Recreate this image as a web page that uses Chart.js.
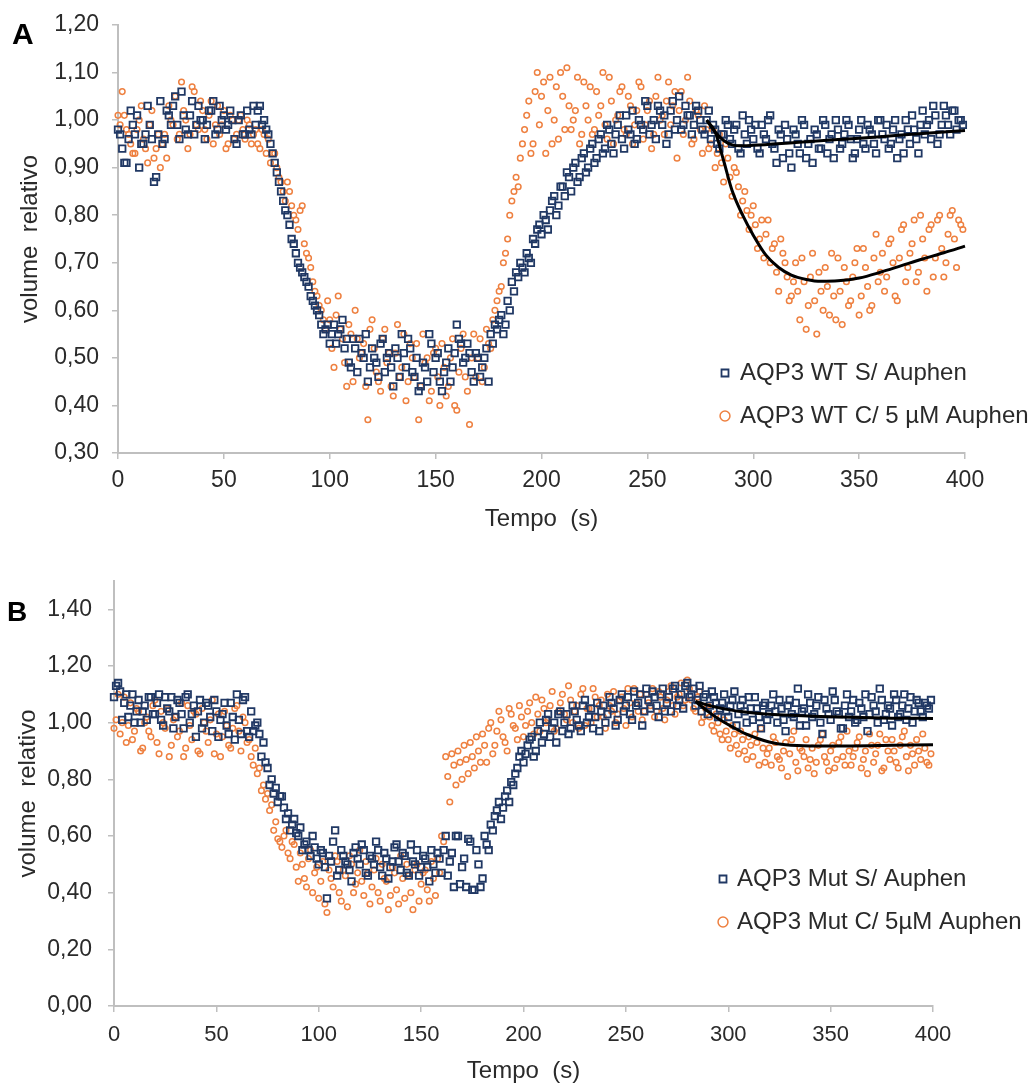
<!DOCTYPE html>
<html>
<head>
<meta charset="utf-8">
<script src="https://cdn.jsdelivr.net/npm/chart.js@4.4.1/dist/chart.umd.min.js"></script>
<style>
  html, body { margin: 0; padding: 0; background: #fff; }
  body { width: 1031px; height: 1086px; position: relative; overflow: hidden; font-family: "Liberation Sans", Arial, sans-serif; }
  canvas { position: absolute; left: 0; }
  .tag { position: absolute; font-weight: bold; color: #000; line-height: 1; z-index: 2; }
</style>
</head>
<body>
<canvas id="chartA" width="1031" height="545" style="top:0"></canvas>
<canvas id="chartB" width="1031" height="526" style="top:560px"></canvas>
<div class="tag" style="left:12px; top:19px; font-size:30px;">A</div>
<div class="tag" style="left:7px; top:598px; font-size:28px;">B</div>
<script>
// tempo (s): even and odd readings
const tempo = [
  0, 2, 4, 6, 8, 10, 12, 14, 16, 18,
  20, 22, 24, 26, 28, 30, 32, 34, 36, 38,
  40, 42, 44, 46, 48, 50, 52, 54, 56, 58,
  60, 62, 64, 66, 68, 70, 72, 74, 76, 78,
  80, 82, 84, 86, 88, 90, 92, 94, 96, 98,
  100, 102, 104, 106, 108, 110, 112, 114, 116, 118,
  120, 122, 124, 126, 128, 130, 132, 134, 136, 138,
  140, 142, 144, 146, 148, 150, 152, 154, 156, 158,
  160, 162, 164, 166, 168, 170, 172, 174, 176, 178,
  180, 182, 184, 186, 188, 190, 192, 194, 196, 198,
  200, 202, 204, 206, 208, 210, 212, 214, 216, 218,
  220, 222, 224, 226, 228, 230, 232, 234, 236, 238,
  240, 242, 244, 246, 248, 250, 252, 254, 256, 258,
  260, 262, 264, 266, 268, 270, 272, 274, 276, 278,
  280, 282, 284, 286, 288, 290, 292, 294, 296, 298,
  300, 302, 304, 306, 308, 310, 312, 314, 316, 318,
  320, 322, 324, 326, 328, 330, 332, 334, 336, 338,
  340, 342, 344, 346, 348, 350, 352, 354, 356, 358,
  360, 362, 364, 366, 368, 370, 372, 374, 376, 378,
  380, 382, 384, 386, 388, 390, 392, 394, 396, 398
];
const tempoImpar = [
  1, 3, 5, 7, 9, 11, 13, 15, 17, 19,
  21, 23, 25, 27, 29, 31, 33, 35, 37, 39,
  41, 43, 45, 47, 49, 51, 53, 55, 57, 59,
  61, 63, 65, 67, 69, 71, 73, 75, 77, 79,
  81, 83, 85, 87, 89, 91, 93, 95, 97, 99,
  101, 103, 105, 107, 109, 111, 113, 115, 117, 119,
  121, 123, 125, 127, 129, 131, 133, 135, 137, 139,
  141, 143, 145, 147, 149, 151, 153, 155, 157, 159,
  161, 163, 165, 167, 169, 171, 173, 175, 177, 179,
  181, 183, 185, 187, 189, 191, 193, 195, 197, 199,
  201, 203, 205, 207, 209, 211, 213, 215, 217, 219,
  221, 223, 225, 227, 229, 231, 233, 235, 237, 239,
  241, 243, 245, 247, 249, 251, 253, 255, 257, 259,
  261, 263, 265, 267, 269, 271, 273, 275, 277, 279,
  281, 283, 285, 287, 289, 291, 293, 295, 297, 299,
  301, 303, 305, 307, 309, 311, 313, 315, 317, 319,
  321, 323, 325, 327, 329, 331, 333, 335, 337, 339,
  341, 343, 345, 347, 349, 351, 353, 355, 357, 359,
  361, 363, 365, 367, 369, 371, 373, 375, 377, 379,
  381, 383, 385, 387, 389, 391, 393, 395, 397, 399
];

// painel A - AQP3 WT sem Auphen
const wtSemAuphen = [
  0.98, 0.94, 0.91, 1.02, 0.97, 0.90, 0.95, 1.03, 0.96, 0.88,
  1.04, 0.96, 1.01, 1.03, 0.99, 1.06, 0.98, 1.01, 0.97, 1.03,
  1.00, 0.99, 1.02, 0.97, 1.03, 1.01, 0.99, 1.00, 0.95, 1.01,
  0.97, 0.98, 1.03, 1.02, 0.99, 0.98, 0.95, 0.91, 0.87, 0.83,
  0.80, 0.75, 0.72, 0.69, 0.67, 0.65, 0.62, 0.60, 0.57, 0.56,
  0.53, 0.57, 0.55, 0.58, 0.54, 0.48, 0.52, 0.54, 0.50, 0.45,
  0.52, 0.49, 0.53, 0.47, 0.51, 0.44, 0.50, 0.55, 0.48, 0.52,
  0.46, 0.43, 0.49, 0.45, 0.53, 0.50, 0.45, 0.47, 0.52, 0.48,
  0.57, 0.53, 0.50, 0.51, 0.45, 0.50, 0.48, 0.52, 0.55, 0.57,
  0.58, 0.55, 0.62, 0.66, 0.68, 0.70, 0.68, 0.71, 0.75, 0.77,
  0.76, 0.79, 0.81, 0.84, 0.82, 0.86, 0.89, 0.85, 0.91, 0.88,
  0.93, 0.90, 0.95, 0.92, 0.97, 0.94, 0.98, 0.93, 0.99, 0.96,
  1.01, 0.97, 0.95, 1.00, 0.98, 1.03, 0.99, 0.96, 1.02, 1.01,
  0.97, 1.04, 1.00, 0.98, 1.03, 1.01, 0.99, 1.02, 0.98, 1.00,
  0.96, 0.98, 0.94, 0.97, 0.99, 0.95, 0.99, 0.93, 0.97, 1.00,
  0.96, 0.94, 0.99, 0.96, 1.01, 0.94, 0.98, 0.92, 0.96, 0.90,
  0.97, 0.93, 0.99, 0.95, 0.91, 0.97, 0.94, 0.99, 0.96, 0.92,
  0.98, 0.95, 1.00, 0.96, 0.93, 0.98, 0.95, 0.99, 0.97, 0.93,
  1.00, 0.96, 0.94, 0.98, 0.92, 0.97, 1.00, 0.95, 0.98, 0.93,
  1.02, 0.99, 0.96, 1.01, 0.97, 1.03, 0.99, 1.02, 0.98, 1.00
];
const wtSemAuphenImpar = [
  0.97, 0.91, 0.96, 0.99, 1.01, 0.95, 0.97, 0.99, 0.87, 0.97,
  0.95, 1.02, 0.99, 1.05, 0.96, 1.01, 0.97, 1.04, 0.99, 1.00,
  0.96, 1.02, 1.04, 0.98, 1.00, 0.98, 1.02, 0.96, 1.00, 0.97,
  1.02, 0.97, 0.99, 1.03, 1.00, 0.97, 0.93, 0.89, 0.85, 0.81,
  0.78, 0.74, 0.70, 0.68, 0.66, 0.63, 0.61, 0.59, 0.55, 0.57,
  0.55, 0.53, 0.56, 0.52, 0.49, 0.54, 0.47, 0.51, 0.55, 0.48,
  0.50, 0.46, 0.54, 0.50, 0.48, 0.52, 0.46, 0.51, 0.54, 0.47,
  0.50, 0.44, 0.48, 0.55, 0.47, 0.51, 0.43, 0.49, 0.45, 0.51,
  0.54, 0.49, 0.53, 0.47, 0.51, 0.46, 0.50, 0.45, 0.53, 0.56,
  0.59, 0.57, 0.60, 0.64, 0.67, 0.69, 0.72, 0.70, 0.74, 0.78,
  0.80, 0.77, 0.83, 0.80, 0.86, 0.84, 0.88, 0.90, 0.87, 0.92,
  0.89, 0.94, 0.91, 0.96, 0.93, 0.99, 0.95, 0.97, 1.01, 0.94,
  0.98, 1.02, 0.96, 0.99, 1.04, 0.97, 1.00, 1.03, 0.99, 0.95,
  1.02, 0.98, 1.05, 0.99, 1.01, 0.97, 1.03, 1.00, 0.97, 1.02,
  0.99, 0.95, 0.97, 1.00, 0.96, 0.98, 0.94, 1.01, 0.95, 0.98,
  0.99, 0.93, 0.97, 1.00, 0.95, 0.91, 0.97, 0.99, 0.93, 0.98,
  0.95, 1.00, 0.92, 0.96, 0.98, 0.94, 1.00, 0.93, 0.97, 1.00,
  0.94, 0.97, 0.99, 0.92, 0.96, 1.00, 0.94, 0.98, 0.95, 1.00,
  0.97, 0.99, 0.95, 1.00, 0.96, 0.93, 0.98, 1.01, 0.96, 0.99,
  0.97, 1.00, 1.03, 0.95, 0.99, 1.01, 0.97, 1.02, 1.00, 0.99
];
// painel A - AQP3 WT com 5 uM Auphen
const wtComAuphen = [
  1.01, 1.06, 0.98, 0.95, 0.93, 1.00, 0.96, 0.91, 1.02, 0.94,
  0.90, 0.97, 1.03, 0.99, 0.96, 1.08, 1.00, 0.97, 1.06, 0.98,
  1.02, 0.96, 1.04, 0.99, 0.97, 1.02, 0.95, 1.00, 0.97, 1.01,
  0.96, 0.99, 0.97, 0.95, 0.98, 0.93, 0.91, 0.93, 0.88, 0.85,
  0.87, 0.82, 0.79, 0.81, 0.74, 0.71, 0.66, 0.63, 0.60, 0.56,
  0.58, 0.48, 0.63, 0.54, 0.44, 0.55, 0.60, 0.50, 0.53, 0.37,
  0.58, 0.47, 0.43, 0.56, 0.51, 0.42, 0.57, 0.48, 0.41, 0.53,
  0.46, 0.37, 0.55, 0.50, 0.43, 0.52, 0.40, 0.48, 0.44, 0.54,
  0.39, 0.52, 0.46, 0.36, 0.55, 0.50, 0.45, 0.56, 0.52, 0.60,
  0.64, 0.70, 0.75, 0.83, 0.88, 0.92, 0.98, 1.04, 0.95, 1.10,
  1.05, 0.93, 1.09, 1.00, 0.96, 1.05, 1.11, 0.98, 1.02, 0.95,
  1.08, 1.00, 0.97, 1.06, 1.03, 0.99, 1.09, 0.95, 1.01, 1.07,
  0.97, 1.03, 0.99, 1.08, 0.96, 1.02, 0.94, 1.05, 1.00, 0.97,
  1.08, 1.03, 0.92, 1.06, 1.00, 1.04, 0.96, 1.01, 0.93, 0.98,
  0.95, 0.90, 0.97, 0.87, 0.92, 0.84, 0.89, 0.80, 0.85, 0.77,
  0.82, 0.73, 0.79, 0.76, 0.70, 0.74, 0.64, 0.72, 0.67, 0.63,
  0.70, 0.58, 0.66, 0.61, 0.72, 0.55, 0.64, 0.69, 0.59, 0.63,
  0.71, 0.57, 0.66, 0.62, 0.70, 0.59, 0.73, 0.65, 0.61, 0.76,
  0.68, 0.64, 0.74, 0.70, 0.62, 0.77, 0.66, 0.72, 0.79, 0.68,
  0.75, 0.64, 0.78, 0.71, 0.80, 0.67, 0.76, 0.81, 0.69, 0.78
];
const wtComAuphenImpar = [
  0.99, 1.01, 0.97, 0.93, 0.98, 1.03, 0.94, 0.99, 0.92, 0.97,
  0.95, 0.92, 1.00, 1.05, 0.97, 1.02, 0.94, 1.07, 0.99, 1.04,
  0.98, 1.01, 0.95, 1.03, 0.99, 0.94, 1.01, 0.96, 1.00, 0.98,
  1.00, 0.95, 0.98, 0.94, 0.97, 0.96, 0.93, 0.90, 0.87, 0.83,
  0.85, 0.80, 0.77, 0.82, 0.72, 0.69, 0.64, 0.61, 0.58, 0.62,
  0.52, 0.59, 0.56, 0.49, 0.57, 0.45, 0.54, 0.51, 0.44, 0.56,
  0.52, 0.45, 0.54, 0.49, 0.44, 0.51, 0.46, 0.55, 0.45, 0.50,
  0.53, 0.44, 0.49, 0.41, 0.51, 0.46, 0.53, 0.42, 0.50, 0.40,
  0.47, 0.55, 0.43, 0.50, 0.46, 0.54, 0.48, 0.53, 0.58, 0.62,
  0.65, 0.72, 0.80, 0.85, 0.86, 0.95, 1.01, 0.93, 1.06, 0.99,
  1.08, 1.02, 0.95, 1.07, 1.10, 0.98, 1.03, 1.00, 1.09, 0.97,
  1.03, 1.07, 0.98, 1.01, 1.10, 0.96, 1.04, 1.00, 1.06, 0.98,
  1.05, 0.95, 1.02, 1.07, 0.99, 1.04, 0.97, 1.09, 1.01, 1.04,
  0.99, 1.06, 1.02, 0.97, 1.09, 0.95, 1.02, 0.98, 1.03, 0.94,
  0.98, 0.93, 0.91, 0.95, 0.88, 0.90, 0.86, 0.83, 0.81, 0.80,
  0.78, 0.75, 0.71, 0.79, 0.73, 0.68, 0.75, 0.70, 0.62, 0.66,
  0.64, 0.71, 0.56, 0.67, 0.62, 0.68, 0.60, 0.65, 0.72, 0.58,
  0.64, 0.69, 0.61, 0.67, 0.73, 0.63, 0.69, 0.60, 0.71, 0.66,
  0.72, 0.67, 0.75, 0.63, 0.71, 0.78, 0.69, 0.74, 0.66, 0.80,
  0.71, 0.77, 0.67, 0.79, 0.73, 0.70, 0.80, 0.75, 0.79, 0.77
];
const ajusteTempoWtS = [278, 282, 286, 290, 295, 300, 320, 340, 360, 380, 400];
const ajusteWtS = [1.00, 0.975, 0.957, 0.948, 0.946, 0.947, 0.953, 0.959, 0.965, 0.972, 0.978];
const ajusteTempoWtC = [278, 282, 286, 290, 295, 300, 306, 312, 318, 325, 332, 340, 350, 360, 370, 380, 390, 400];
const ajusteWtC = [1.00, 0.975, 0.915, 0.852, 0.80, 0.758, 0.716, 0.69, 0.674, 0.665, 0.661, 0.662, 0.668, 0.68, 0.694, 0.708, 0.721, 0.735];

// painel B - AQP3 Mut sem Auphen
const mutSemAuphen = [
  1.09, 1.14, 1.01, 1.10, 1.06, 1.00, 1.08, 1.04, 1.01, 1.09,
  1.03, 1.10, 0.99, 1.05, 1.09, 1.02, 1.07, 0.98, 1.10, 1.03,
  0.95, 1.08, 1.00, 1.06, 0.97, 1.04, 1.01, 1.07, 0.96, 1.02,
  1.10, 0.96, 1.09, 0.95, 0.97, 1.00, 0.88, 0.86, 0.78, 0.75,
  0.72, 0.74, 0.66, 0.62, 0.66, 0.60, 0.55, 0.58, 0.53, 0.56,
  0.50, 0.54, 0.38, 0.51, 0.62, 0.48, 0.53, 0.50, 0.44, 0.56,
  0.50, 0.55, 0.46, 0.52, 0.58, 0.49, 0.54, 0.45, 0.51, 0.57,
  0.48, 0.53, 0.46, 0.51, 0.55, 0.49, 0.52, 0.44, 0.50, 0.54,
  0.47, 0.60, 0.51, 0.42, 0.60, 0.49, 0.42, 0.58, 0.41, 0.50,
  0.45, 0.57, 0.64, 0.67, 0.72, 0.70, 0.76, 0.79, 0.82, 0.88,
  0.86, 0.92, 0.95, 0.90, 1.00, 0.96, 1.03, 0.98, 0.93, 1.04,
  1.00, 0.96, 1.06, 1.01, 0.97, 1.08, 1.02, 0.98, 1.07, 1.04,
  1.00, 1.09, 1.05, 1.01, 1.10, 1.06, 1.03, 1.11, 1.07, 0.99,
  1.12, 1.05, 1.09, 1.02, 1.12, 1.07, 1.04, 1.13, 1.08, 1.05,
  1.14, 1.10, 1.06, 1.13, 1.09, 1.03, 1.11, 1.07, 1.05, 1.10,
  1.02, 1.08, 0.99, 1.06, 1.04, 1.09, 1.01, 1.05, 0.98, 1.07,
  1.03, 1.10, 1.00, 1.05, 0.97, 1.08, 1.02, 1.12, 1.04, 0.99,
  1.07, 1.03, 1.09, 0.96, 1.05, 1.01, 1.08, 1.03, 0.98, 1.10,
  1.04, 1.00, 1.07, 1.02, 0.97, 1.09, 1.04, 1.12, 1.01, 1.06,
  0.99, 1.08, 1.03, 1.10, 1.05, 1.00, 1.08, 1.04, 1.07, 1.05
];
const mutSemAuphenImpar = [
  1.13, 1.11, 1.07, 1.02, 1.10, 1.04, 1.00, 1.06, 1.09, 1.03,
  1.07, 1.01, 1.09, 1.04, 0.98, 1.08, 1.03, 1.09, 1.00, 1.06,
  1.04, 0.98, 1.07, 1.02, 1.08, 0.95, 1.03, 0.99, 1.07, 0.94,
  1.01, 1.08, 0.97, 1.04, 0.99, 0.96, 0.93, 0.84, 0.80, 0.77,
  0.74, 0.70, 0.68, 0.64, 0.61, 0.63, 0.57, 0.55, 0.60, 0.52,
  0.55, 0.49, 0.53, 0.58, 0.46, 0.55, 0.51, 0.48, 0.54, 0.52,
  0.57, 0.47, 0.53, 0.50, 0.55, 0.46, 0.52, 0.49, 0.56, 0.51,
  0.54, 0.47, 0.57, 0.50, 0.46, 0.53, 0.49, 0.55, 0.47, 0.52,
  0.55, 0.46, 0.54, 0.60, 0.43, 0.52, 0.59, 0.41, 0.55, 0.42,
  0.60, 0.55, 0.62, 0.69, 0.66, 0.74, 0.72, 0.78, 0.84, 0.90,
  0.89, 0.94, 0.88, 0.97, 0.93, 1.01, 0.95, 1.00, 1.03, 0.97,
  1.03, 0.98, 1.04, 0.99, 1.06, 1.00, 1.05, 1.02, 0.97, 1.06,
  1.03, 1.07, 0.99, 1.08, 1.04, 1.09, 1.01, 1.06, 1.10, 1.04,
  1.08, 1.11, 1.06, 1.10, 1.04, 1.09, 1.12, 1.06, 1.10, 1.13,
  1.09, 1.12, 1.08, 1.04, 1.10, 1.06, 1.09, 1.02, 1.07, 1.04,
  1.06, 1.11, 1.03, 1.08, 1.00, 1.05, 1.09, 1.02, 1.06, 1.01,
  1.06, 1.04, 1.08, 1.01, 1.06, 1.03, 1.07, 0.99, 1.05, 1.10,
  1.02, 1.06, 1.00, 1.08, 1.03, 1.11, 1.04, 0.98, 1.06, 1.02,
  1.08, 1.01, 1.05, 1.10, 1.03, 1.06, 1.00, 1.08, 1.03, 1.05,
  1.10, 1.02, 1.06, 1.01, 1.09, 1.04, 1.07, 1.02, 1.06, 1.08
];
// painel B - AQP3 Mut com 5 uM Auphen
const mutComAuphen = [
  0.98, 1.10, 1.00, 0.93, 1.07, 0.97, 1.04, 0.91, 1.02, 0.95,
  1.08, 0.89, 1.00, 1.05, 0.92, 1.02, 0.97, 0.88, 1.06, 0.94,
  1.03, 0.89, 1.00, 0.93, 1.08, 0.96, 0.88, 1.04, 0.92, 0.98,
  1.06, 0.90, 1.00, 0.94, 0.85, 0.82, 0.76, 0.73, 0.69, 0.62,
  0.59, 0.56, 0.62, 0.52, 0.57, 0.44, 0.50, 0.42, 0.55, 0.47,
  0.38, 0.51, 0.33, 0.45, 0.53, 0.40, 0.48, 0.35, 0.50, 0.43,
  0.55, 0.39, 0.47, 0.42, 0.52, 0.37, 0.45, 0.34, 0.49, 0.41,
  0.53, 0.38, 0.46, 0.34, 0.50, 0.43, 0.48, 0.37, 0.45, 0.52,
  0.60, 0.88, 0.72, 0.85, 0.90, 0.80, 0.87, 0.93, 0.84, 0.90,
  0.96, 0.86, 1.00, 0.92, 1.04, 0.95, 0.90, 1.03, 0.98, 1.06,
  0.95, 1.04, 1.00, 1.09, 0.97, 1.05, 1.01, 1.11, 0.98, 1.07,
  1.03, 1.13, 1.00, 1.06, 1.10, 0.99, 1.05, 1.12, 1.02, 1.08,
  0.98, 1.06, 1.11, 1.03, 1.09, 0.99, 1.07, 1.12, 1.04, 1.01,
  1.10, 1.06, 1.02, 1.11, 1.05, 1.08, 1.13, 1.03, 1.10, 1.06,
  1.15, 1.08, 1.04, 1.11, 1.02, 1.06, 0.99, 1.03, 0.96, 1.01,
  0.94, 0.99, 0.92, 0.97, 0.90, 0.95, 0.88, 0.93, 0.98, 0.86,
  0.91, 0.95, 0.88, 0.84, 0.93, 0.89, 0.97, 0.83, 0.90, 0.94,
  0.87, 0.82, 0.92, 0.96, 0.86, 0.90, 0.84, 0.93, 0.88, 0.97,
  0.85, 0.91, 0.95, 0.87, 0.82, 0.92, 0.89, 0.96, 0.84, 0.90,
  0.94, 0.86, 0.92, 0.97, 0.83, 0.89, 0.94, 0.87, 0.91, 0.85
];
const mutComAuphenImpar = [
  1.01, 0.96, 1.09, 0.99, 0.94, 1.05, 0.90, 1.00, 0.97, 1.06,
  0.93, 1.04, 0.98, 0.88, 1.01, 0.95, 1.07, 0.91, 0.99, 1.04,
  0.90, 1.05, 0.97, 1.01, 0.89, 1.03, 0.95, 0.99, 0.91, 1.05,
  0.97, 1.02, 0.93, 0.88, 0.91, 0.84, 0.78, 0.75, 0.71, 0.65,
  0.58, 0.60, 0.54, 0.58, 0.49, 0.54, 0.45, 0.52, 0.40, 0.49,
  0.44, 0.36, 0.48, 0.42, 0.51, 0.37, 0.46, 0.53, 0.40, 0.47,
  0.44, 0.51, 0.36, 0.48, 0.40, 0.50, 0.44, 0.39, 0.47, 0.36,
  0.45, 0.50, 0.40, 0.48, 0.37, 0.47, 0.41, 0.51, 0.39, 0.47,
  0.58, 0.81, 0.89, 0.78, 0.86, 0.92, 0.82, 0.88, 0.95, 0.86,
  0.92, 0.98, 0.89, 0.97, 1.01, 0.93, 1.05, 0.99, 0.94, 1.02,
  0.99, 1.07, 0.96, 1.03, 1.08, 1.00, 1.06, 0.97, 1.04, 1.10,
  1.01, 1.08, 1.04, 0.98, 1.12, 1.05, 1.00, 1.09, 1.06, 1.02,
  1.10, 1.04, 1.00, 1.08, 1.05, 1.12, 1.02, 1.07, 1.10, 1.04,
  1.07, 1.12, 1.04, 1.09, 1.01, 1.11, 1.06, 1.09, 1.14, 1.08,
  1.12, 1.05, 1.09, 1.00, 1.05, 1.02, 0.97, 1.00, 0.94, 0.97,
  0.91, 0.96, 0.89, 0.94, 0.87, 0.92, 0.96, 0.85, 0.91, 0.89,
  0.85, 0.93, 0.87, 0.90, 0.81, 0.94, 0.86, 0.91, 0.88, 0.84,
  0.91, 0.86, 0.94, 0.88, 0.83, 0.92, 0.87, 0.95, 0.85, 0.90,
  0.88, 0.93, 0.84, 0.90, 0.96, 0.86, 0.92, 0.83, 0.94, 0.87,
  0.90, 0.84, 0.95, 0.88, 0.92, 0.85, 0.90, 0.96, 0.86, 0.89
];
const ajusteTempoMutS = [284, 290, 295, 300, 305, 310, 320, 330, 345, 360, 380, 400];
const ajusteMutS = [1.075, 1.062, 1.053, 1.046, 1.040, 1.036, 1.030, 1.026, 1.022, 1.019, 1.016, 1.015];
const ajusteTempoMutC = [284, 290, 296, 302, 308, 314, 320, 328, 340, 360, 380, 400];
const ajusteMutC = [1.075, 1.04, 1.01, 0.985, 0.962, 0.945, 0.932, 0.922, 0.918, 0.918, 0.920, 0.922];

const NAVY = '#203864';
const ORANGE = '#ee8040';
const AXIS = '#bfbfbf';
const TEXT = '#2a2a2a';
const FONT = '"Liberation Sans", Arial, sans-serif';

const toPoints = (xs, ys) => xs.map((x, i) => ({ x: x, y: ys[i] }));
const comma = v => v.toFixed(2).replace('.', ',');

// moves the built-in legend to a fixed spot inside the plot
const legendSpot = {
  id: 'legendSpot',
  afterLayout(chart, args, opts) {
    const lg = chart.legend;
    lg.left = opts.x;
    lg.top = opts.y;
    lg.right = opts.x + lg.width;
    lg.bottom = opts.y + 200;
  }
};

function buildPanel(canvasId, p) {
  const fitLine = (xs, ys) => ({
    label: 'ajuste',
    data: toPoints(xs, ys),
    showLine: true,
    pointRadius: 0,
    borderColor: '#000',
    borderWidth: 3,
    cubicInterpolationMode: 'monotone',
    order: 0,
    clip: false
  });
  return new Chart(document.getElementById(canvasId), {
    type: 'scatter',
    data: {
      datasets: [
        {
          label: p.labels[0],
          data: toPoints(tempo, p.navy).concat(toPoints(tempoImpar, p.navyOdd)),
          pointStyle: 'rect',
          pointRadius: 4.6,
          borderWidth: 1.8,
          borderColor: NAVY,
          backgroundColor: 'rgba(0,0,0,0)',
          order: 1,
          clip: false
        },
        {
          label: p.labels[1],
          data: toPoints(tempo, p.orange).concat(toPoints(tempoImpar, p.orangeOdd)),
          pointStyle: 'circle',
          pointRadius: 2.8,
          borderWidth: 1.5,
          borderColor: ORANGE,
          backgroundColor: 'rgba(0,0,0,0)',
          order: 2,
          clip: false
        },
        fitLine(p.fitT1, p.fit1),
        fitLine(p.fitT2, p.fit2)
      ]
    },
    options: {
      responsive: false,
      animation: false,
      events: [],
      layout: { padding: p.pad },
      plugins: {
        tooltip: { enabled: false },
        legend: {
          position: 'chartArea',
          align: 'start',
          labels: {
            filter: item => item.datasetIndex < 2,
            usePointStyle: true,
            boxWidth: p.boxW,
            boxHeight: 7,
            padding: 19,
            color: TEXT,
            font: { family: FONT, size: 24 }
          }
        },
        legendSpot: p.legend
      },
      scales: {
        x: {
          type: 'linear',
          min: 0,
          max: 400,
          ticks: { stepSize: 50, padding: p.xPad, color: TEXT, font: { family: FONT, size: p.xFont } },
          grid: { drawOnChartArea: false, color: AXIS, lineWidth: 1.5, tickLength: 6 },
          border: { color: AXIS, width: 2 },
          title: { display: true, text: 'Tempo  (s)', color: TEXT, font: { family: FONT, size: 24 }, padding: 0 },
          afterFit: s => { s.height = p.xHeight; s.paddingLeft = 0; s.paddingRight = 0; }
        },
        y: {
          min: p.yMin,
          max: p.yMax,
          bounds: 'data',
          ticks: { stepSize: p.yStep, padding: p.yPad, color: TEXT, font: { family: FONT, size: 23 }, callback: v => comma(v) },
          grid: { drawOnChartArea: false, color: AXIS, lineWidth: 1.5, tickLength: 6 },
          border: { color: AXIS, width: 2 },
          title: { display: true, text: 'volume  relativo', color: TEXT, font: { family: FONT, size: 24 }, padding: 0 },
          afterBuildTicks: s => { s.ticks = s.ticks.filter(t => t.value <= p.yTopTick + 1e-6); },
          afterFit: s => { s.width = p.yWidth; s.paddingTop = 0; s.paddingBottom = 0; }
        }
      }
    },
    plugins: [legendSpot]
  });
}

buildPanel('chartA', {
  navy: wtSemAuphen, navyOdd: wtSemAuphenImpar,
  orange: wtComAuphen, orangeOdd: wtComAuphenImpar,
  labels: ['AQP3 WT S/ Auphen', 'AQP3 WT C/ 5 µM Auphen'],
  fitT1: ajusteTempoWtS, fit1: ajusteWtS,
  fitT2: ajusteTempoWtC, fit2: ajusteWtC,
  yMin: 0.3, yMax: 1.2, yStep: 0.1, yTopTick: 1.2,
  pad: { left: 16, right: 66, top: 25, bottom: 11 },
  yWidth: 102, xHeight: 81,
  xPad: 8, yPad: 13, xFont: 23,
  boxW: 6,
  legend: { x: 703, y: 342 }
});

buildPanel('chartB', {
  navy: mutSemAuphen, navyOdd: mutSemAuphenImpar,
  orange: mutComAuphen, orangeOdd: mutComAuphenImpar,
  labels: ['AQP3 Mut S/ Auphen', 'AQP3 Mut C/ 5µM Auphen'],
  fitT1: ajusteTempoMutS, fit1: ajusteMutS,
  fitT2: ajusteTempoMutC, fit2: ajusteMutC,
  yMin: 0, yMax: 1.5, yStep: 0.2, yTopTick: 1.4,
  pad: { left: 14, right: 98, top: 21, bottom: 0 },
  yWidth: 100, xHeight: 80,
  xPad: 10, yPad: 16, xFont: 22,
  boxW: 4,
  legend: { x: 702, y: 288 }
});
</script>
</body>
</html>
